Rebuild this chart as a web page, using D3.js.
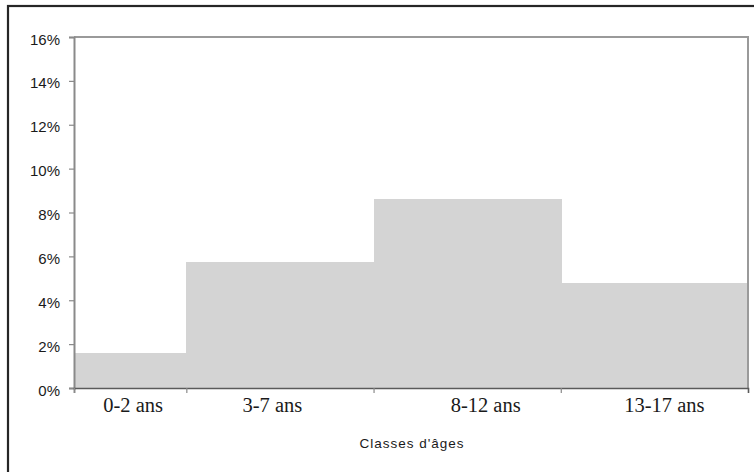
<!DOCTYPE html>
<html><head><meta charset="utf-8">
<script src="https://cdn.jsdelivr.net/npm/d3@7"></script>
<style>html,body{margin:0;padding:0;background:#fff;overflow:hidden}</style>
</head><body>
<script>
// Data
const categories = ["0-2 ans", "3-7 ans", "8-12 ans", "13-17 ans"];
const ageStart = [0, 3, 8, 13];
const ageEnd = [3, 8, 13, 18];
const values = [1.6, 5.75, 8.6, 4.8]; // percent
const yTicks = [0, 2, 4, 6, 8, 10, 12, 14, 16];
const xTitle = "Classes d'âges";

// Layout
const W = 754, H = 472;
const mLeft = 74, mRight = 748, mTop = 37, mBottom = 388;
const labelDx = [3, -7.5, 18.5, 10];

const svg = d3.select("body").append("svg").attr("width", W).attr("height", H);
svg.append("rect").attr("width", W).attr("height", H).attr("fill", "#fff");

// outer border (cut at right/bottom)
svg.append("rect").attr("x", 8).attr("y", 6).attr("width", W + 10).attr("height", H + 10)
  .attr("fill", "none").attr("stroke", "#262626").attr("stroke-width", 2.2);

const x = d3.scaleLinear().domain([0, 18]).range([mLeft, mRight]);
const y = d3.scaleLinear().domain([0, 16]).range([mBottom, mTop]);

const data = categories.map((c, i) => ({c, s: ageStart[i], e: ageEnd[i], v: values[i]}));

// bars
svg.append("g").selectAll("rect").data(data).join("rect")
  .attr("x", d => Math.round(x(d.s))).attr("width", d => Math.round(x(d.e)) - Math.round(x(d.s)) + 0.5)
  .attr("y", d => y(d.v)).attr("height", d => y(0) - y(d.v))
  .attr("shape-rendering", "crispEdges")
  .attr("fill", "#d4d4d4");

// plot frame top & right
svg.append("path").attr("d", `M${mLeft},${mTop}H${mRight}V${mBottom}`)
  .attr("fill", "none").attr("stroke", "#9a9a9a").attr("stroke-width", 2);

// y axis
const yAxis = d3.axisLeft(y).tickValues(yTicks).tickFormat(d => d + "%").tickSize(5).tickPadding(9);
const gy = svg.append("g").attr("transform", `translate(${mLeft},0)`).call(yAxis);
gy.select(".domain").attr("stroke", "#8a8a8a").attr("stroke-width", 2);
gy.selectAll(".tick line").attr("stroke", "#8a8a8a").attr("stroke-width", 1.2);
gy.selectAll(".tick text").attr("font-family", "'Liberation Sans', Arial, sans-serif")
  .attr("font-size", 15).attr("fill", "#1a1a1a").attr("dy", "0.47em");

// x axis
const xAxis = d3.axisBottom(x).tickValues(ageStart).tickSize(5).tickFormat("");
const gx = svg.append("g").attr("transform", `translate(0,${mBottom})`).call(xAxis);
gx.select(".domain").attr("stroke", "#5a5a5a").attr("stroke-width", 1.6);
gx.selectAll(".tick line").attr("stroke", "#8a8a8a").attr("stroke-width", 1.2);

// category labels
svg.append("g").selectAll("text").data(data).join("text")
  .attr("x", (d, i) => (x(d.s) + x(d.e)) / 2 + labelDx[i])
  .attr("y", 412)
  .attr("text-anchor", "middle")
  .attr("font-family", "'Liberation Serif', 'Times New Roman', serif")
  .attr("font-size", 20.5).attr("fill", "#1a1a1a")
  .text(d => d.c);

// axis title
svg.append("text").attr("x", 412).attr("y", 448).attr("text-anchor", "middle")
  .attr("font-family", "'Liberation Sans', Arial, sans-serif")
  .attr("font-size", 13.5).attr("letter-spacing", 1).attr("fill", "#1a1a1a")
  .text(xTitle);
</script>
</body></html>
